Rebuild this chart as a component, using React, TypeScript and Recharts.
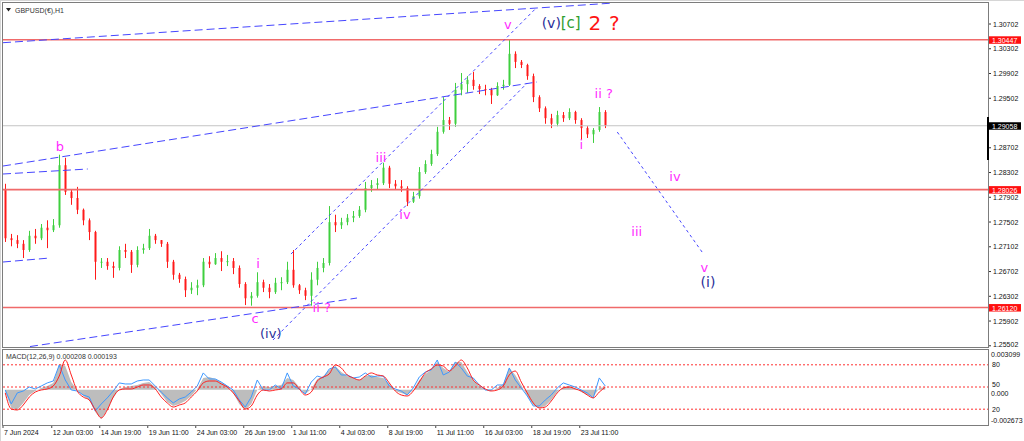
import {
  ComposedChart, Bar, Line, Area, XAxis, YAxis, ReferenceLine, ReferenceDot,
} from 'recharts';

// one drawn candle = 8 H1 bars
const BAR_STEP = 8;
const X_MAX = 1313.33;
const P_MIN = 1.254825;
const P_MAX = 1.310415;
const FIRST_OPEN = 1.2802;

const closes = [
  1.2724, 1.2721, 1.2715, 1.2705, 1.2728, 1.2724, 1.2741, 1.2737, 1.2745, 1.2842,
  1.2799, 1.2789, 1.2770, 1.2753, 1.2734, 1.2686, 1.2686, 1.2679, 1.2676, 1.2705,
  1.2702, 1.2681, 1.2705, 1.2708, 1.2728, 1.2721, 1.2715, 1.2686, 1.2665, 1.2658,
  1.2640, 1.2644, 1.2648, 1.2686, 1.2682, 1.2692, 1.2686, 1.2687, 1.2676, 1.2650,
  1.2627, 1.2631, 1.2653, 1.2644, 1.2637, 1.2652, 1.2653, 1.2673, 1.2648, 1.2640,
  1.2631, 1.2657, 1.2676, 1.2684, 1.2750, 1.2745, 1.2750, 1.2757, 1.2760, 1.2770,
  1.2805, 1.2810, 1.2813, 1.2838, 1.2812, 1.2808, 1.2805, 1.2783, 1.2792, 1.2831,
  1.2844, 1.2860, 1.2896, 1.2915, 1.2909, 1.2964, 1.2973, 1.2980, 1.2970, 1.2965,
  1.2964, 1.2955, 1.2970, 1.2972, 1.3022, 1.3009, 1.3004, 1.2986, 1.2952, 1.2934,
  1.2918, 1.2909, 1.2923, 1.2918, 1.2928, 1.2915, 1.2902, 1.2892, 1.2899, 1.2928,
  1.29058,
];

const highs = [
  1.2812, 1.2731, 1.2729, 1.2721, 1.2736, 1.2739, 1.2747, 1.2753, 1.2755, 1.2859,
  1.2854, 1.2802, 1.2807, 1.2772, 1.2756, 1.2736, 1.2692, 1.2692, 1.2686, 1.2711,
  1.2715, 1.2705, 1.2711, 1.2715, 1.2739, 1.2731, 1.2721, 1.2718, 1.2689, 1.2668,
  1.2662, 1.2653, 1.2657, 1.2692, 1.2695, 1.2700, 1.2703, 1.2697, 1.2692, 1.2680,
  1.2653, 1.2637, 1.2669, 1.2657, 1.2650, 1.2660, 1.2661, 1.2686, 1.2705, 1.2650,
  1.2644, 1.2669, 1.2686, 1.2692, 1.2776, 1.2762, 1.2757, 1.2763, 1.2768, 1.2776,
  1.2815, 1.2818, 1.2821, 1.2846, 1.2841, 1.2818, 1.2818, 1.2808, 1.2799, 1.2839,
  1.2850, 1.2867, 1.2904, 1.2952, 1.2920, 1.2975, 1.2991, 1.2986, 1.2993, 1.2973,
  1.2972, 1.2967, 1.2976, 1.2980, 1.3045, 1.3026, 1.3012, 1.3006, 1.2990, 1.2955,
  1.2937, 1.2925, 1.2930, 1.2928, 1.2934, 1.2930, 1.2918, 1.2905, 1.2902, 1.2936,
  1.2931,
];

const lows = [
  1.2718, 1.2711, 1.2708, 1.2692, 1.2702, 1.2715, 1.2721, 1.2708, 1.2734, 1.2741,
  1.2794, 1.2778, 1.2763, 1.2745, 1.2721, 1.2657, 1.2676, 1.2673, 1.2660, 1.2672,
  1.2692, 1.2668, 1.2677, 1.2699, 1.2705, 1.2715, 1.2710, 1.2676, 1.2657, 1.2652,
  1.2629, 1.2634, 1.2632, 1.2645, 1.2676, 1.2681, 1.2671, 1.2679, 1.2666, 1.2644,
  1.2616, 1.2615, 1.2628, 1.2637, 1.2627, 1.2634, 1.2640, 1.2650, 1.2644, 1.2634,
  1.2624, 1.2615, 1.2648, 1.2669, 1.2680, 1.2734, 1.2739, 1.2745, 1.2750, 1.2757,
  1.2766, 1.2799, 1.2802, 1.2810, 1.2805, 1.2802, 1.2799, 1.2776, 1.2781, 1.2788,
  1.2828, 1.2841, 1.2857, 1.2893, 1.2899, 1.2904, 1.2955, 1.2959, 1.2964, 1.2957,
  1.2955, 1.2941, 1.2954, 1.2964, 1.2970, 1.2999, 1.2999, 1.2980, 1.2944, 1.2928,
  1.2909, 1.2902, 1.2905, 1.2912, 1.2915, 1.2909, 1.2883, 1.2886, 1.2878, 1.2896,
  1.2902,
];

// MACD main (grey histogram)
const macdMain = [
  -0.00018, -0.00142, -0.00158, -0.00103, -0.00041, -0.00010, 0.00014, 0.00029, 0.00053, 0.00201,
  0.00185, 0.00060, -0.00002, -0.00049, -0.00080, -0.00174, -0.00228, -0.00158, -0.00064, 0.00006,
  0.00021, 0.00029, 0.00037, 0.00053, 0.00060, 0.00021, -0.00033, -0.00096, -0.00127, -0.00111,
  -0.00088, -0.00049, 0.00006, 0.00092, 0.00099, 0.00084, 0.00060, 0.00029, -0.00025, -0.00111,
  -0.00158, -0.00111, -0.00002, 0.00029, 0.00021, 0.00029, 0.00037, 0.00092, 0.00076, 0.00021,
  -0.00033, 0.00006, 0.00084, 0.00107, 0.00154, 0.00185, 0.00138, 0.00107, 0.00092, 0.00076,
  0.00107, 0.00115, 0.00099, 0.00092, 0.00045, -0.00010, -0.00025, -0.00041, -0.00002, 0.00076,
  0.00123, 0.00154, 0.00216, 0.00170, 0.00138, 0.00216, 0.00216, 0.00138, 0.00076, 0.00029,
  -0.00002, -0.00010, 0.00014, 0.00045, 0.00170, 0.00115, 0.00037, -0.00049, -0.00119, -0.00142,
  -0.00127, -0.00080, -0.00018, 0.00021, 0.00029, 0.00014, -0.00018, -0.00041, -0.00057, 0.00014,
  0.00021,
];

// signal (red)
const macdSignal = [
  -0.00025, -0.00150, -0.00158, -0.00119, -0.00057, -0.00018, -0.00002, 0.00006, 0.00029, 0.00107,
  0.00232, 0.00115, -0.00010, -0.00057, -0.00080, -0.00158, -0.00220, -0.00158, -0.00057, -0.00002,
  0.00006, 0.00006, 0.00021, 0.00037, 0.00037, 0.00006, -0.00057, -0.00103, -0.00135, -0.00119,
  -0.00103, -0.00057, -0.00010, 0.00053, 0.00068, 0.00068, 0.00045, 0.00021, -0.00025, -0.00088,
  -0.00150, -0.00127, -0.00041, -0.00002, -0.00010, -0.00002, 0.00006, 0.00053, 0.00053, 0.00006,
  -0.00041, -0.00018, 0.00068, 0.00099, 0.00123, 0.00193, 0.00170, 0.00115, 0.00092, 0.00076,
  0.00107, 0.00131, 0.00115, 0.00107, 0.00053, -0.00010, -0.00041, -0.00049, -0.00010, 0.00060,
  0.00131, 0.00162, 0.00193, 0.00185, 0.00146, 0.00185, 0.00232, 0.00170, 0.00076, 0.00037,
  0.00006, -0.00010, -0.00002, 0.00029, 0.00115, 0.00146, 0.00060, -0.00025, -0.00103, -0.00142,
  -0.00135, -0.00088, -0.00025, 0.00014, 0.00021, 0.00006, -0.00010, -0.00041, -0.00064, -0.00018,
  0.00019,
];

// fast line (blue)
const macdFast = [
  -0.00002, -0.00111, -0.00025, -0.00010, 0.00021, 0.00006, 0.00029, 0.00053, 0.00068, 0.00193,
  0.00076, -0.00002, -0.00010, -0.00041, -0.00057, -0.00166, -0.00111, -0.00064, -0.00010, 0.00053,
  0.00045, 0.00045, 0.00068, 0.00076, 0.00076, 0.00029, -0.00018, -0.00064, -0.00103, -0.00072,
  -0.00057, -0.00018, 0.00029, 0.00131, 0.00084, 0.00084, 0.00060, 0.00029, -0.00002, -0.00080,
  -0.00135, -0.00057, 0.00076, -0.00002, -0.00002, 0.00037, 0.00006, 0.00131, 0.00029, 0.00006,
  -0.00033, 0.00060, 0.00107, 0.00092, 0.00162, 0.00177, 0.00115, 0.00115, 0.00092, 0.00099,
  0.00131, 0.00099, 0.00107, 0.00107, 0.00029, 0.00006, -0.00010, -0.00041, 0.00014, 0.00099,
  0.00138, 0.00154, 0.00232, 0.00115, 0.00138, 0.00216, 0.00170, 0.00107, 0.00092, 0.00037,
  -0.00002, -0.00002, 0.00037, 0.00037, 0.00170, 0.00076, 0.00014, -0.00049, -0.00127, -0.00127,
  -0.00080, -0.00041, 0.00014, 0.00053, 0.00037, 0.00021, -0.00002, -0.00025, -0.00064, 0.00092,
  0.00029,
];

const priceTicks = [
  1.25502, 1.25902, 1.26302, 1.26702, 1.27102, 1.27502, 1.27902,
  1.28302, 1.28702, 1.29502, 1.29902, 1.30302, 1.30702,
];
const dateTicks = [0, 65, 129, 193, 257, 321, 385, 449, 513, 577, 641, 705, 769];
const dateLabels = [
  '7 Jun 2024', '12 Jun 03:00', '14 Jun 19:00', '19 Jun 11:00', '24 Jun 03:00',
  '26 Jun 19:00', '1 Jul 11:00', '4 Jul 03:00', '8 Jul 19:00', '11 Jul 11:00',
  '16 Jul 03:00', '18 Jul 19:00', '23 Jul 11:00',
];

const levels = [1.30447, 1.28026, 1.2612];
const LAST_PRICE = 1.29058;

const MAG = '#ff2bff';
const NAVY = '#2a2f9a';
const BLUE = '#4646ff';

// trend / channel lines: [bar, price] -> [bar, price]
const channels = [
  { a: [0, 1.304], b: [809, 1.31037], dash: '8 4' },
  { a: [0, 1.28407], b: [712, 1.29765], dash: '8 4' },
  { a: [0, 1.28278], b: [113, 1.28359], dash: '8 4' },
  { a: [0, 1.26856], b: [63, 1.26921], dash: '8 4' },
  { a: [36, 1.2549], b: [472, 1.26274], dash: '8 4' },
  { a: [384, 1.26985], b: [711, 1.30961], dash: '3 3' },
  { a: [360, 1.25596], b: [699, 1.29749], dash: '3 3' },
  { a: [819, 1.28957], b: [933, 1.27002], dash: '3 3' },
];

const waves = [
  { bar: 76, price: 1.28715, text: 'b', color: MAG, size: 13 },
  { bar: 336, price: 1.2594, text: 'c', color: MAG, size: 13 },
  { bar: 357, price: 1.25705, text: '(iv)', color: NAVY, size: 13 },
  { bar: 340, price: 1.26824, text: 'i', color: MAG, size: 13 },
  { bar: 425, price: 1.26113, text: 'ii ?', color: MAG, size: 13 },
  { bar: 504, price: 1.28537, text: 'iii', color: MAG, size: 13 },
  { bar: 536, price: 1.27616, text: 'iv', color: MAG, size: 13 },
  { bar: 673, price: 1.30686, text: 'v', color: MAG, size: 13 },
  { bar: 731, price: 1.30718, text: '(v)', color: NAVY, size: 14 },
  { bar: 757, price: 1.30718, text: '[c]', color: '#2e9e2e', size: 15 },
  { bar: 789, price: 1.30718, text: '2', color: '#ff1515', size: 20 },
  { bar: 815, price: 1.30718, text: '?', color: '#ff1515', size: 20 },
  { bar: 801, price: 1.29587, text: 'ii ?', color: MAG, size: 13 },
  { bar: 771, price: 1.28747, text: 'i', color: MAG, size: 13 },
  { bar: 896, price: 1.2823, text: 'iv', color: MAG, size: 13 },
  { bar: 845, price: 1.27341, text: 'iii', color: MAG, size: 13 },
  { bar: 935, price: 1.26775, text: 'v', color: MAG, size: 13 },
  { bar: 940, price: 1.26533, text: '(i)', color: NAVY, size: 14 },
];

const rows = closes.map((c, i) => ({
  bar: i * BAR_STEP + 3,
  open: i === 0 ? FIRST_OPEN : closes[i - 1],
  close: c,
  high: highs[i],
  low: lows[i],
  range: [lows[i], highs[i]],
  hist: macdMain[i],
  signal: macdSignal[i],
  fast: macdFast[i],
}));

const FONT = '"Liberation Sans", Arial, sans-serif';

function Candle(props: any) {
  const { x, y, width, height, payload } = props;
  if (x == null || y == null) return null;
  const { open, close, high, low } = payload;
  const span = high - low || 1e-9;
  const py = (v: number) => y + ((high - v) / span) * height;
  const color = close >= open ? '#3fcf3f' : '#ff1a1a';
  const mid = Math.round(x + width / 2);
  const top = py(Math.max(open, close));
  const bot = py(Math.min(open, close));
  return (
    <g>
      <line x1={mid + 0.5} x2={mid + 0.5} y1={y} y2={y + height} stroke={color} strokeWidth={1} />
      <rect x={mid - 0.5} y={top} width={2} height={Math.max(1, bot - top)} fill={color} />
    </g>
  );
}

function PriceTick({ y, payload }: any) {
  const ty = y > 343 ? y - 1.5 : y;
  return (
    <g>
      <line x1={988} x2={991} y1={y} y2={y} stroke="#333" />
      <text x={993} y={ty} dominantBaseline="central" fontSize={7} fontFamily={FONT} fill="#111">
        {payload.value.toFixed(5)}
      </text>
    </g>
  );
}

function DateTick({ x, y, payload }: any) {
  const label = dateLabels[dateTicks.indexOf(payload.value)];
  return (
    <g>
      <line x1={x} x2={x} y1={y + 1} y2={y + 4} stroke="#444" />
      <text x={x + 1} y={y + 8} dominantBaseline="central" fontSize={7} fontFamily={FONT} fill="#111">
        {label}
      </text>
    </g>
  );
}

function MacdTick({ y, payload }: any) {
  const v = payload.value;
  const text = v === 0 ? '0.000' : v.toFixed(6);
  const dy = v > 0 ? 4.5 : v < 0 ? -4 : 4;
  return (
    <text x={991} y={y + dy} dominantBaseline="central" fontSize={7} fontFamily={FONT} fill="#111">
      {text}
    </text>
  );
}

const priceTag = (text: string, bg: string) => (props: any) => {
  const { x, y, width } = props.viewBox;
  const left = x + width + 1;
  return (
    <g>
      <rect x={left} y={y - 3.5} width={32} height={7.5} fill={bg} />
      <text x={left + 3} y={y + 0.5} dominantBaseline="central" fontSize={7} fontFamily={FONT} fill="#fff">
        {text}
      </text>
    </g>
  );
};

export default function App() {
  return (
    <div style={{ position: 'absolute', left: 0, top: 0, width: 1024, height: 441, background: '#fff', overflow: 'hidden' }}>
      <div style={{ position: 'absolute', left: 0, top: 0 }}>
        <ComposedChart width={1024} height={347} data={rows} margin={{ top: 3, right: 0, bottom: 0, left: 3 }}>
          <XAxis type="number" dataKey="bar" domain={[0, X_MAX]} allowDataOverflow hide />
          <YAxis
            orientation="right"
            width={36}
            domain={[P_MIN, P_MAX]}
            allowDataOverflow
            ticks={priceTicks}
            interval={0}
            tickLine={false}
            axisLine={false}
            tick={<PriceTick />}
          />
          <ReferenceLine y={LAST_PRICE} stroke="#c4c4c4" strokeWidth={1} label={priceTag('1.29058', '#000')} />
          {levels.map(l => (
            <ReferenceLine key={l} y={l} stroke="#f06a6a" strokeWidth={1.6} label={priceTag(l.toFixed(5), '#ff1010')} />
          ))}
          {channels.map((c, i) => (
            <ReferenceLine
              key={i}
              segment={[{ x: c.a[0], y: c.a[1] }, { x: c.b[0], y: c.b[1] }]}
              stroke={BLUE}
              strokeWidth={1}
              strokeDasharray={c.dash}
              ifOverflow="hidden"
            />
          ))}
          <Bar dataKey="range" barSize={4} shape={(p: any) => <Candle {...p} />} isAnimationActive={false} />
          {waves.map((w, i) => (
            <ReferenceDot
              key={i}
              x={w.bar}
              y={w.price}
              r={0}
              shape={(p: any) => (
                <text
                  x={p.cx}
                  y={p.cy}
                  textAnchor="middle"
                  dominantBaseline="central"
                  fontSize={w.size}
                  fontFamily='"DejaVu Sans", Verdana, sans-serif'
                  fill={w.color}
                >
                  {w.text}
                </text>
              )}
            />
          ))}
        </ComposedChart>
      </div>

      <div style={{ position: 'absolute', left: 0, top: 350 }}>
        <ComposedChart width={1024} height={91} data={rows} margin={{ top: 0, right: 0, bottom: 0, left: 3 }}>
          <XAxis
            type="number"
            dataKey="bar"
            domain={[0, X_MAX]}
            allowDataOverflow
            ticks={dateTicks}
            interval={0}
            height={17}
            tickLine={false}
            axisLine={false}
            tickSize={0}
            tickMargin={0}
            tick={<DateTick />}
          />
          <YAxis
            yAxisId="m"
            orientation="right"
            width={36}
            domain={[-0.002673, 0.003099]}
            allowDataOverflow
            ticks={[0.003099, 0, -0.002673]}
            interval={0}
            tickLine={false}
            axisLine={false}
            tick={<MacdTick />}
          />
          <YAxis yAxisId="p" domain={[0, 100]} allowDataOverflow hide />
          <Area
            yAxisId="m"
            dataKey="hist"
            type="linear"
            baseValue={0}
            fill="#bdbdbd"
            fillOpacity={1}
            stroke="none"
            isAnimationActive={false}
          />
          {[80, 50, 20].map(v => (
            <ReferenceLine
              key={v}
              yAxisId="p"
              y={v}
              stroke="#ff3030"
              strokeDasharray="2 2"
              label={{ value: String(v), position: 'right', offset: 4, fontSize: 7, fill: '#111', fontFamily: FONT, dy: v === 50 ? -2 : 0 }}
            />
          ))}
          <Line yAxisId="m" dataKey="fast" type="linear" stroke="#3d98ff" strokeWidth={1} dot={false} isAnimationActive={false} />
          <Line yAxisId="m" dataKey="signal" type="monotone" stroke="#ff2020" strokeWidth={1} dot={false} isAnimationActive={false} />
        </ComposedChart>
      </div>

      <svg width={1024} height={441} style={{ position: 'absolute', left: 0, top: 0, pointerEvents: 'none' }}>
        <line x1={0} x2={1024} y1={0.5} y2={0.5} stroke="#d6d6d6" />
        <line x1={0.5} x2={0.5} y1={0} y2={441} stroke="#d6d6d6" />
        <rect x={2.5} y={2.5} width={986} height={345} fill="none" stroke="#7c7c7c" />
        <rect x={2.5} y={349.5} width={986} height={76} fill="none" stroke="#7c7c7c" />
        <rect x={987} y={117} width={2} height={43} fill="#000" />
        <polygon points="6,8 11,8 8.5,11.5" fill="#222" />
        <text x={15} y={10} dominantBaseline="central" fontSize={7} fontFamily={FONT} fill="#333">GBPUSD(€),H1</text>
        <text x={6} y={356} dominantBaseline="central" fontSize={7} fontFamily={FONT} fill="#333">
          MACD(12,26,9) 0.000208 0.000193
        </text>
      </svg>
    </div>
  );
}
